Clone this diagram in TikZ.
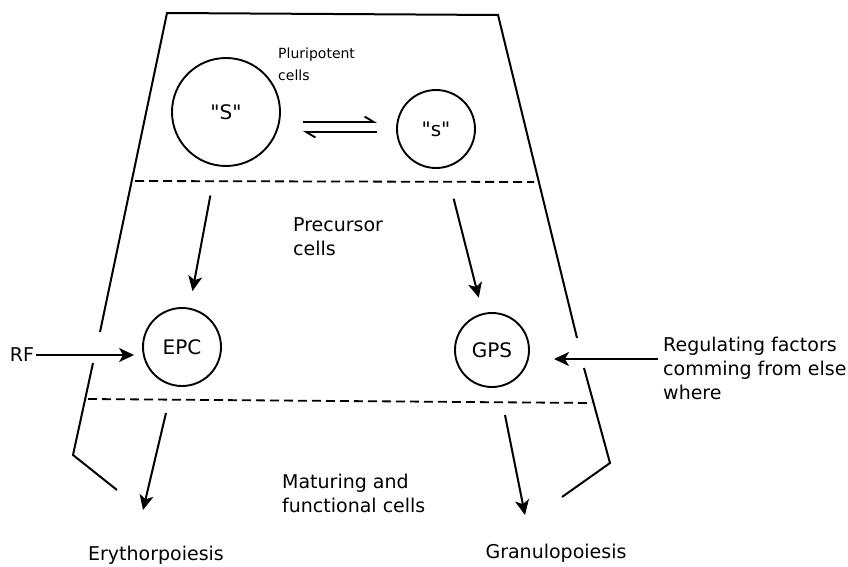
\documentclass[tikz,border=0pt]{standalone}
\usepackage{fontspec}
\setmainfont{DejaVu Sans}
\usetikzlibrary{arrows.meta}

\begin{document}
\begin{tikzpicture}[x=1pt,y=-1pt,
  cell/.style={circle,draw,line width=1.9pt,inner sep=0pt,font=\fontsize{20}{24}\selectfont},
  lbl/.style={font=\fontsize{19}{24}\selectfont,align=left,inner sep=0pt},
  small/.style={font=\fontsize{14}{22}\selectfont,align=left,inner sep=0pt},
  arr/.style={line width=2pt,-{Stealth[length=15pt,width=14pt,inset=4pt]}},
  harp/.style={line width=1.9pt,-{Straight Barb[harpoon,length=9pt,width=11pt]}},
  wall/.style={line width=2pt},
  level/.style={line width=1.8pt,dash pattern=on 9pt off 5pt}]
  \useasboundingbox (0,0) rectangle (848,567);

  % outline
  \coordinate (tl) at (167,13);
  \coordinate (tr) at (498,15);
  \coordinate (lm) at (100,332);
  \coordinate (rm) at (577,338);
  \coordinate (lb1) at (93,363);
  \coordinate (lk) at (73,455);
  \coordinate (lb2) at (117,490);
  \coordinate (rb1) at (584,368);
  \coordinate (rk) at (610,463);
  \coordinate (rb2) at (562,497);

  \draw[wall] (lm) -- (tl) -- (tr) -- (rm);
  \draw[wall] (lb1) -- (lk) -- (lb2);
  \draw[wall] (rb1) -- (rk) -- (rb2);

  \coordinate (d1l) at (135,181);
  \coordinate (d1r) at (534,182);
  \coordinate (d2l) at (88,399);
  \coordinate (d2r) at (592,403);

  \draw[level] (d1l) -- (d1r);
  \draw[level] (d2l) -- (d2r);

  % cells
  \node[cell,minimum size=108pt] (S) at (226,112) {\textquotedbl S\textquotedbl};
  \node[cell,minimum size=78pt] (s) at (436,129) {\textquotedbl s\textquotedbl};
  \node[cell,minimum size=78pt] (EPC) at (182,347) {EPC};
  \node[cell,minimum size=74pt] (GPS) at (492,350) {GPS};

  \node[small,anchor=west] (pluri) at (278,64) {Pluripotent\\cells};
  \node[lbl,anchor=west] (prec) at (293,237) {Precursor\\cells};
  \node[lbl,anchor=west] (mat) at (282,493) {Maturing and\\functional cells};
  \node[lbl,anchor=west] (reg) at (663,368) {Regulating factors\\comming from else\\where};
  \node[lbl] (RF) at (22,355) {RF};
  \node[lbl] (ery) at (156,555) {Erythorpoiesis};
  \node[lbl] (gran) at (556,553) {Granulopoiesis};

  % S <-> s
  \coordinate (h1) at (303,122);
  \coordinate (h2) at (377,122);
  \coordinate (h3) at (377,132);
  \coordinate (h4) at (303,132);
  \draw[harp] (h1) -- (h2);
  \draw[harp] (h3) -- (h4);

  \draw[arr,shorten <=30pt,shorten >=17pt] (S) -- (EPC);
  \draw[arr,shorten <=32pt,shorten >=16pt] (s) -- (GPS);

  \draw[arr,shorten <=2pt,shorten >=8pt] (RF) -- (RF -| EPC.west);
  \coordinate (r1) at (658,359);
  \draw[arr,shorten >=24pt] (r1) -- (r1 -| GPS.east);

  \coordinate (e1) at (166,413);
  \coordinate (e2) at (143,510);
  \coordinate (g1) at (505,415);
  \coordinate (g2) at (525,515);
  \draw[arr] (e1) -- (e2);
  \draw[arr] (g1) -- (g2);

\end{tikzpicture}
\end{document}
